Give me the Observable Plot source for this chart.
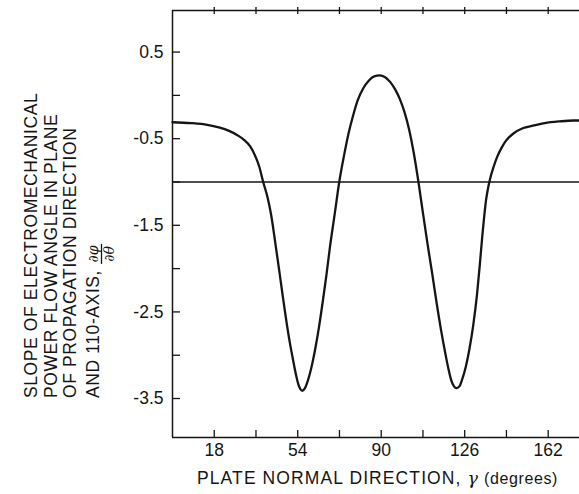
<!DOCTYPE html>
<html><head><meta charset="utf-8">
<script src="https://cdn.jsdelivr.net/npm/d3@7"></script>
<script src="https://cdn.jsdelivr.net/npm/@observablehq/plot@0.6"></script>
<style>
body{margin:0;background:#fff;}
#chart svg{display:block;}
</style></head><body><div id="chart"></div>
<script>
// plate normal direction gamma (degrees)
const gammaDeg = [0, 8, 15, 20, 24.4, 28, 30.7, 33.5, 35.5, 37.5, 39, 41, 42.6, 44.2, 45.8, 47.4, 48.9, 50.5, 52.1, 53.2, 54.2, 55.1, 56, 57.1, 58.4, 60, 61.6, 63.2, 64.8, 66.4, 67.9, 70, 71.9, 74, 75.9, 78, 79.8, 82.2, 84.6, 87, 89.3, 91.7, 94, 96, 98, 100, 102, 104, 106, 108, 110, 112, 113.8, 115.8, 117.8, 119, 120.2, 121.4, 122.5, 123.7, 124.9, 126.5, 128.1, 129.7, 131.3, 132.5, 133.6, 134.4, 135.2, 136, 136.8, 138.4, 140, 142, 143.9, 147, 151, 155.5, 160.5, 167, 173, 175.5];
// slope of electromechanical power flow angle, dphi/dtheta
const slope = [-0.31, -0.32, -0.34, -0.37, -0.41, -0.46, -0.51, -0.59, -0.69, -0.83, -0.99, -1.18, -1.39, -1.68, -1.98, -2.29, -2.57, -2.84, -3.07, -3.22, -3.33, -3.39, -3.41, -3.38, -3.29, -3.13, -2.92, -2.67, -2.38, -2.07, -1.75, -1.36, -1.0, -0.69, -0.44, -0.22, -0.06, 0.08, 0.17, 0.22, 0.23, 0.21, 0.15, 0.07, -0.04, -0.19, -0.39, -0.66, -0.99, -1.36, -1.72, -2.06, -2.38, -2.71, -3.0, -3.16, -3.29, -3.36, -3.38, -3.36, -3.28, -3.13, -2.92, -2.65, -2.3, -1.96, -1.62, -1.4, -1.21, -1.08, -0.98, -0.83, -0.71, -0.6, -0.52, -0.44, -0.38, -0.35, -0.32, -0.3, -0.29, -0.29];
const referenceLevel = [-1];
const xTickValues = [18, 36, 54, 72, 90, 108, 126, 144, 162];
const xTickLabels = [18, 54, 90, 126, 162];
const yTickValues = [0.5, 0, -0.5, -1, -1.5, -2, -2.5, -3, -3.5];
const yTickLabels = [0.5, -0.5, -1.5, -2.5, -3.5];
const xDomain = [0, 175.5];
const yDomain = [-3.95, 0.98];
const xTitleParts = ["PLATE NORMAL DIRECTION, ", "γ", " (degrees)"];
const yTitleLines = ["SLOPE OF ELECTROMECHANICAL", "POWER FLOW ANGLE IN PLANE", "OF PROPAGATION DIRECTION", "AND 110-AXIS,"];
const fractionTop = "∂φ";
const fractionBottom = "∂θ";

const W = 579, H = 494, mL = 172, mT = 10, mB = 57, mR = 0;
const pw = W - mL - mR, ph = H - mT - mB;
const font = "'Liberation Sans', Arial, Helvetica, sans-serif";
const ink = "#151515";
const data = gammaDeg.map((g, i) => ({g, s: slope[i]}));

const plot = Plot.plot({
  width: W, height: H,
  marginLeft: mL, marginRight: mR, marginTop: mT, marginBottom: mB,
  style: {fontFamily: font, fontSize: "17px", color: ink, background: "#fff", overflow: "visible"},
  x: {domain: xDomain},
  y: {domain: yDomain},
  marks: [
    Plot.axisX({ticks: xTickLabels, tickSize: 0, tickPadding: 6, tickFormat: d => String(d), label: null, fontSize: 17.5}),
    Plot.axisY({ticks: yTickLabels, tickSize: 0, tickPadding: 9, tickFormat: d => String(d), label: null, fontSize: 17.5}),
    // frame: left, top, bottom
    Plot.ruleX([xDomain[0]], {stroke: ink, strokeWidth: 1.5}),
    Plot.ruleY([yDomain[1]], {stroke: ink, strokeWidth: 1.5}),
    Plot.ruleY([yDomain[0]], {stroke: ink, strokeWidth: 1.5}),
    // inward ticks
    Plot.ruleY(yTickValues, {stroke: ink, strokeWidth: 1.3, insetRight: pw - 8}),
    Plot.ruleX(xTickValues, {stroke: ink, strokeWidth: 1.3, insetTop: ph - 7}),
    Plot.ruleX(xTickValues, {stroke: ink, strokeWidth: 1.3, insetBottom: ph - 4, insetTop: -3}),
    // reference level
    Plot.ruleY(referenceLevel, {stroke: ink, strokeWidth: 1.3}),
    // curve
    Plot.line(data, {x: "g", y: "s", stroke: ink, strokeWidth: 2.3, curve: "monotone-x"})
  ]
});
document.getElementById("chart").append(plot);

const svg = d3.select(plot);
// x title
const xt = svg.append("text")
  .attr("x", mL + pw / 2 + 2).attr("y", 484)
  .attr("text-anchor", "middle")
  .attr("letter-spacing", 1.1)
  .attr("font-family", font).attr("font-size", 17.5).attr("fill", ink);
xt.append("tspan").text(xTitleParts[0]);
xt.append("tspan").attr("font-style", "italic").attr("font-family", "'DejaVu Serif', serif").text(xTitleParts[1]);
xt.append("tspan").attr("font-size", 16).attr("letter-spacing", 0.6).text(xTitleParts[2]);

// y title (rotated, four lines)
const lineX = [37, 57, 76, 99];
const startY = 398;
const g = svg.append("g").attr("font-family", font).attr("font-size", 17.5).attr("fill", ink)
  .attr("text-anchor", "start").attr("letter-spacing", 0.6);
let lastLen = 0;
yTitleLines.forEach((t, i) => {
  const el = g.append("text")
    .attr("text-anchor", "start")
    .attr("transform", `translate(${lineX[i]},${startY}) rotate(-90)`)
    .text(t);
  if (i === yTitleLines.length - 1) lastLen = el.node().getComputedTextLength();
});
const fr = g.append("g").attr("transform", `translate(${lineX[3]},${startY}) rotate(-90)`)
  .attr("letter-spacing", 0);
const fx = lastLen + 16;
fr.append("text").attr("x", fx).attr("y", -1).attr("text-anchor", "middle")
  .attr("font-size", 14).attr("font-style", "italic").attr("font-family", "'DejaVu Serif', serif").text(fractionTop);
fr.append("line").attr("x1", fx - 10).attr("x2", fx + 10).attr("y1", 2.5).attr("y2", 2.5)
  .attr("stroke", ink).attr("stroke-width", 1.3);
fr.append("text").attr("x", fx).attr("y", 15).attr("text-anchor", "middle")
  .attr("font-size", 14).attr("font-style", "italic").attr("font-family", "'DejaVu Serif', serif").text(fractionBottom);
</script>
</body></html>
